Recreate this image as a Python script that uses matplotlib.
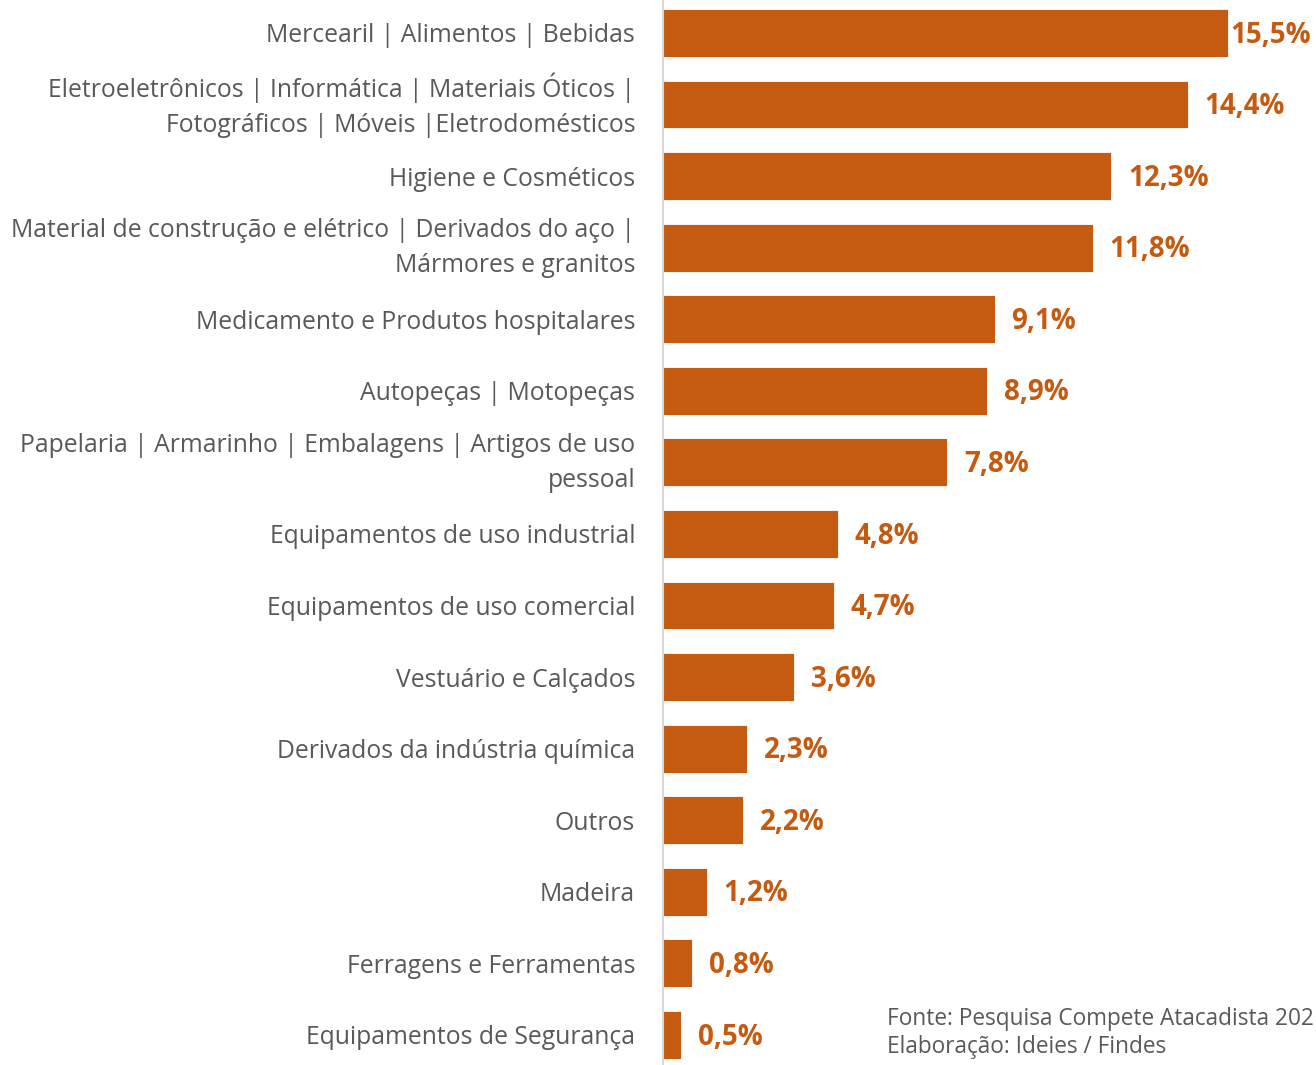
import numpy as np
import matplotlib.pyplot as plt
import matplotlib.transforms as mtransforms

categorias = [
    "Mercearil | Alimentos | Bebidas",
    "Eletroeletrônicos | Informática | Materiais Óticos |\nFotográficos | Móveis |Eletrodomésticos",
    "Higiene e Cosméticos",
    "Material de construção e elétrico | Derivados do aço |\nMármores e granitos",
    "Medicamento e Produtos hospitalares",
    "Autopeças | Motopeças",
    "Papelaria | Armarinho | Embalagens | Artigos de uso\npessoal",
    "Equipamentos de uso industrial",
    "Equipamentos de uso comercial",
    "Vestuário e Calçados",
    "Derivados da indústria química",
    "Outros",
    "Madeira",
    "Ferragens e Ferramentas",
    "Equipamentos de Segurança",
]
valores = [15.5, 14.4, 12.3, 11.8, 9.1, 8.9, 7.8, 4.8, 4.7, 3.6, 2.3, 2.2, 1.2, 0.8, 0.5]
rotulos = [f"{v:.1f}%".replace(".", ",") for v in valores]

fonte = "Fonte: Pesquisa Compete Atacadista 202"
elaboracao = "Elaboração: Ideies / Findes"

laranja = "#C55A11"
cinza = "#595959"
plt.rcParams['font.family'] = ['Open Sans', 'DejaVu Sans']

W, H = 1316, 1065
fig = plt.figure(figsize=(W / 100, H / 100), dpi=100)
ax = fig.add_axes([663 / W, 0, 1 - 663 / W, 1])

y = np.arange(len(valores))
ax.barh(y, valores, height=0.67, color=laranja, edgecolor="white", linewidth=0.6)

ax.set_xlim(0, 653 / 36.45)
ax.set_ylim(len(valores) - 1 + 0.42, -0.46)

for yi, v, r in zip(y, valores, rotulos):
    dx = 2 if v == max(valores) else 12
    ax.annotate(r, (v, yi), xytext=(dx, -1.5), textcoords="offset points",
                ha="left", va="center", color=laranja, fontsize=20, fontweight="bold")

ax.set_yticks(y)
ax.set_yticklabels(categorias, fontsize=17.8, color=cinza, linespacing=1.55)
ax.tick_params(axis="y", length=0, pad=20)
# labels de duas linhas ficam um pouco baixas, sobe elas
sobe = mtransforms.ScaledTranslation(0, 5.5 / 72, fig.dpi_scale_trans)
for lbl in ax.get_yticklabels():
    if "\n" in lbl.get_text():
        lbl.set_transform(lbl.get_transform() + sobe)

ax.set_xticks([])
for s in ["top", "right", "bottom"]:
    ax.spines[s].set_visible(False)
ax.spines["left"].set_color("#D9D9D9")
ax.spines["left"].set_linewidth(1.5)

fig.text(887 / W, 1 - 1019 / H, fonte, fontsize=16.3, color=cinza, va="center", ha="left")
fig.text(887 / W, 1 - 1047 / H, elaboracao, fontsize=16.3, color=cinza, va="center", ha="left")

fig.savefig("out.png", dpi=100)
